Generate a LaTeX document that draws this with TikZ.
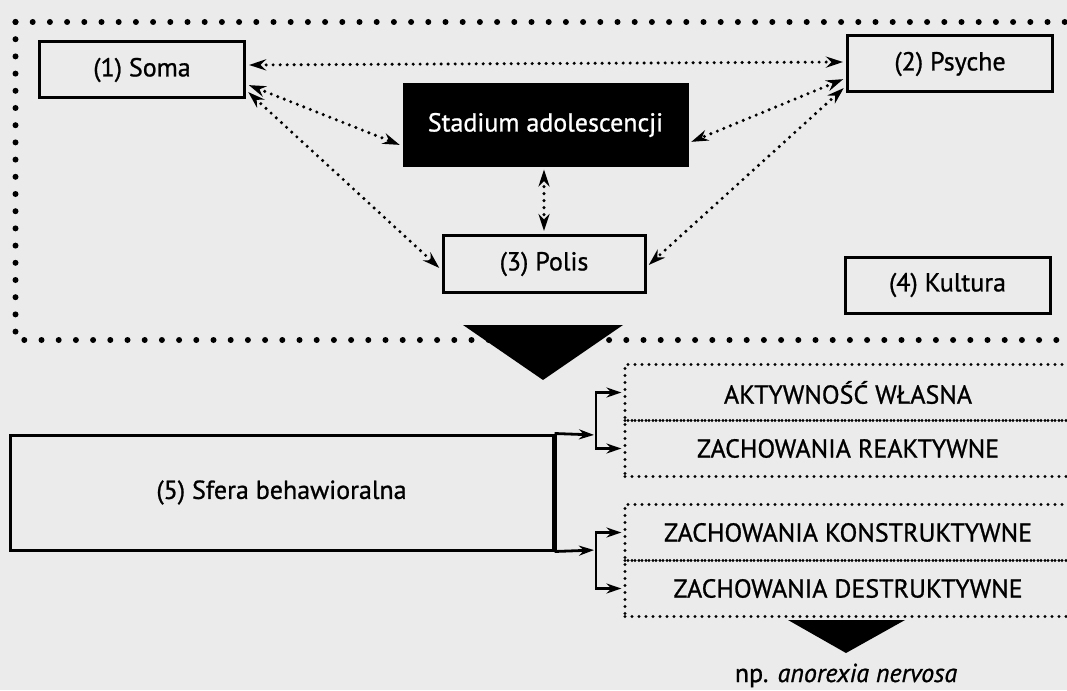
\documentclass[tikz,border=0pt]{standalone}
\usepackage{fontspec}
\setmainfont{PT Sans}[FakeBold=0.9]
\usepackage{tikz}
\usetikzlibrary{arrows.meta}

\begin{document}
\begin{tikzpicture}[
            x = 1pt, y = -1pt, % grid of the scan, y downwards
            > = {Stealth[length=17pt,width=11pt]}, % arrow head style
            labelfont/.style = {font=\fontsize{26}{30}\selectfont},
            box/.style = {shape=rectangle, draw=black, line width=3pt, inner sep=0pt,
                          minimum width=205pt, minimum height=56pt, labelfont},
            dotlink/.style = {<->, line width=3.4pt, dash pattern=on 0pt off 7pt,
                          line cap=round, shorten < = 3pt, shorten > = 3pt},
            bigdots/.style = {line width=6pt, dash pattern=on 0pt off 17.2pt, line cap=round},
            smalldots/.style = {line width=3.2pt, dash pattern=on 0pt off 7pt, line cap=round},
            row/.style = {shape=rectangle, draw=black, smalldots, inner sep=0pt,
                          minimum width=446pt, minimum height=56pt, labelfont},
            link/.style = {-{Stealth[length=15pt,width=10pt]}, line width=2.8pt, shorten > = 2pt}
        ]
\useasboundingbox (0,0) rectangle (1067,690);
\fill[black!8] (0,0) rectangle (1067,690);

% upper frame
\draw[bigdots] (15.5,22) -- (1085,22);
\draw[bigdots] (15.5,22) -- (15.5,340) -- (1085,340);

\node[box] (soma) at (142,70) {(1) Soma};
\node[box] (psyche) at (950,64) {(2) Psyche};
\node[box, fill=black, text=white, minimum width=283pt, minimum height=80pt] (stadium) at (545.5,125) {Stadium adolescencji};
\node[box, minimum width=202pt, minimum height=57pt] (polis) at (544,264) {(3) Polis};
\node[box] (kultura) at (947.5,285) {(4) Kultura};

\path [dotlink] ([yshift=5pt]soma.east) edge ([yshift=2pt]psyche.west);
\path [dotlink] ([yshift=-14pt]soma.east) edge ([yshift=-21pt]stadium.west);
\path [dotlink] ([yshift=-20pt]soma.east) edge ([yshift=-6pt]polis.west);
\path [dotlink] ([yshift=-14pt]psyche.west) edge ([yshift=-18pt]stadium.east);
\path [dotlink] ([yshift=-22pt]psyche.west) edge ([yshift=-3pt]polis.east);
\path [dotlink] (stadium.south -| polis.north) edge (polis.north);

\fill (463,325) -- (623,325) -- (543,380) -- cycle;

% behaviour
\node[box, minimum width=543pt, minimum height=115pt] (sfera) at (281.5,492.5) {(5) Sfera behawioralna};
\draw[line width=5pt] (sfera.north east) -- (sfera.south east);

\node[row] (aktyw) at (848,392.5) {AKTYWNOŚĆ WŁASNA};
\node[row] (reakt) at (848,448.5) {ZACHOWANIA REAKTYWNE};
\node[row] (konstr) at (848,532.5) {ZACHOWANIA KONSTRUKTYWNE};
\node[row] (destr) at (848,588.5) {ZACHOWANIA DESTRUKTYWNE};

\coordinate (upfork) at (596,435);
\coordinate (downfork) at (596,550);
\draw[link] (sfera.north east) -- (upfork);
\draw[link] (sfera.south east) -- (downfork);
\draw[link] (upfork) |- (aktyw.west);
\draw[link] (upfork) |- (reakt.west);
\draw[link] (downfork) |- (konstr.west);
\draw[link] (downfork) |- (destr.west);

\fill (788,620) -- (905,620) -- (846,653) -- cycle;
\node[anchor=base, labelfont, inner sep=0pt] (example) at (846,682) {np. \textit{anorexia nervosa}};
\end{tikzpicture}
\end{document}
